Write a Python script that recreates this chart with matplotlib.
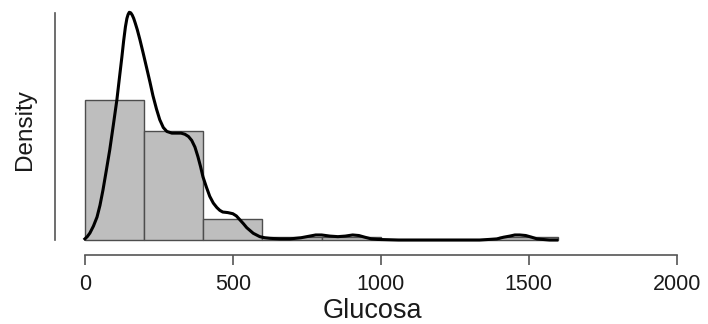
import numpy as np
import matplotlib.pyplot as plt

plt.rcParams['font.family'] = ['Liberation Sans', 'DejaVu Sans']

# histogram of Glucosa: bin edges and counts per bin
bin_edges = [0, 200, 400, 600, 800, 1000, 1200, 1400, 1600]
bin_counts = [46, 36, 7, 1, 1, 0, 0, 1]

# kernel density curve, read as (glucosa, density) points
kde_x = [0, 8, 17, 29, 41, 51, 61, 72, 84, 96, 108, 117, 125, 131, 137, 142,
         146, 150, 155, 160, 165, 170, 177, 186, 197, 209, 220, 230, 242,
         253, 265, 277, 294, 311, 325, 338, 350, 361, 372, 382, 391, 399, 411,
         422, 434, 446, 456, 466, 483, 500, 512, 524, 536, 547, 569, 591, 608,
         625, 660, 693, 730, 760, 780, 800, 828, 855, 880, 905, 926, 946, 968,
         990, 1060, 1132, 1334, 1365, 1392, 1415, 1436, 1453, 1470, 1490,
         1510, 1528, 1547, 1570, 1595]
kde_y = [0.00002, 0.00006, 0.000125, 0.00025, 0.00041, 0.00062, 0.00089,
         0.00123, 0.00161, 0.00205, 0.0025, 0.00291, 0.00327, 0.00356,
         0.00381, 0.00396, 0.00403, 0.00407, 0.00406, 0.00402, 0.00396,
         0.00388, 0.00376, 0.00358, 0.00334, 0.00307, 0.00282, 0.00258,
         0.00234, 0.00215, 0.00201, 0.00194, 0.00191, 0.00191, 0.00191,
         0.00189, 0.00185, 0.00178, 0.00166, 0.00149, 0.00131, 0.00113,
         0.00094, 0.00078, 0.00066, 0.00058, 0.00053, 0.0005, 0.00049,
         0.00047, 0.00043, 0.00036, 0.00029, 0.00022, 0.00012, 0.00006,
         0.00004, 0.00003, 0.00002, 0.00002, 0.00004, 0.00007, 0.00009,
         0.00009, 0.00007, 0.00006, 0.00007, 0.00009, 0.00008, 0.00005,
         0.00002, 0.00001, 0.0, 0.0, 0.0, 0.00001, 0.00002, 0.00005, 0.00007,
         0.00009, 0.00009, 0.00008, 0.00005, 0.00002, 0.00001, 0.0, 0.0]

edges = np.array(bin_edges, dtype=float)
counts = np.array(bin_counts, dtype=float)
widths = np.diff(edges)
dens = counts / (counts.sum() * widths)

W, H = 708, 324
fig = plt.figure(figsize=(W / 100, H / 100), dpi=100)
ax = fig.add_axes([55 / W, 69 / H, 635 / W, 250 / H])

ax.bar(edges[:-1], dens, width=widths, align='edge', color='#bebebe',
       edgecolor='#4d4d4d', linewidth=1, zorder=1)
ax.plot(kde_x, kde_y, color='black', linewidth=2.2, zorder=2,
        solid_joinstyle='round')

ax.set_xlim(-101, 2045)
ax.set_ylim(-0.000268, 0.0042)

for side in ['top', 'right']:
    ax.spines[side].set_visible(False)
ax.spines['left'].set_bounds(0, 0.00405)
ax.spines['bottom'].set_bounds(0, 2000)
for side in ['left', 'bottom']:
    ax.spines[side].set_color('#555555')
    ax.spines[side].set_linewidth(1.2)

ax.set_yticks([])
ax.set_xticks([0, 500, 1000, 1500, 2000])
ax.tick_params(axis='x', length=7, width=1.2, color='#555555', labelsize=15.5,
               pad=7, labelcolor='#1a1a1a')

ax.set_xlabel('Glucosa', fontsize=19.5, color='#1a1a1a', labelpad=2)
ax.set_ylabel('Density', fontsize=17.5, color='#1a1a1a', labelpad=14)

fig.savefig('out.png', dpi=100)
